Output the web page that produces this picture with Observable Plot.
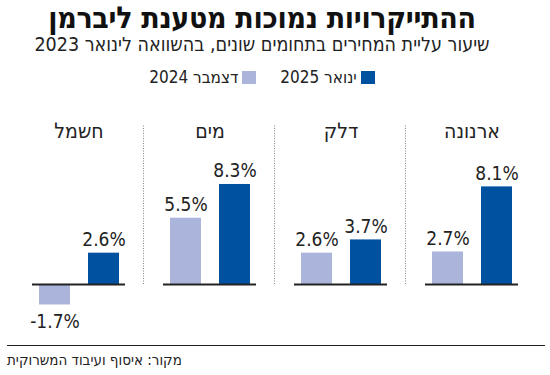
<!DOCTYPE html>
<html lang="he" dir="rtl">
<head>
<meta charset="utf-8">
<script src="https://cdn.jsdelivr.net/npm/d3@7"></script>
<script src="https://cdn.jsdelivr.net/npm/@observablehq/plot@0.6"></script>
<style>
  html, body { margin: 0; padding: 0; background: #fff; }
  body { width: 550px; height: 375px; position: relative; overflow: hidden;
         font-family: "Liberation Sans Narrow", "DejaVu Sans Condensed", "DejaVu Sans", sans-serif; color: #222; }
  #title { position: absolute; top: 2px; left: 0; width: 524px; text-align: center;
           font-size: 30px; font-weight: bold; color: #111; letter-spacing: -0.3px;
           font-family: "DejaVu Sans Condensed", "DejaVu Sans", sans-serif; line-height: 31px; }
  #subtitle { position: absolute; top: 33px; left: 0; width: 524px; text-align: center;
              font-size: 19.5px; line-height: 24px; }
  #legend { position: absolute; top: 66px; left: 0; width: 524px; text-align: center;
            font-size: 17px; line-height: 22px; }
  #legend span.item { display: inline-block; margin: 0 12px; }
  #legend span.sw { display: inline-block; width: 14px; height: 13px; margin-left: 4px; vertical-align: -1px; }
  #chart { position: absolute; top: 95px; left: 0; direction: ltr; }
  #rule { position: absolute; top: 345px; left: 7px; width: 538px; height: 0; border-top: 1.5px solid #222; }
  #source { position: absolute; top: 350px; left: 7px; font-size: 15px; line-height: 20px; }
</style>
</head>
<body>
<div id="title">ההתייקרויות נמוכות מטענת ליברמן</div>
<div id="subtitle">שיעור עליית המחירים בתחומים שונים, בהשוואה לינואר 2023</div>
<div id="legend"></div>
<div id="chart"></div>
<div id="rule"></div>
<div id="source">מקור: איסוף ועיבוד המשרוקית</div>
<script>
// Data
const categories = ["ארנונה", "דלק", "מים", "חשמל"];
const seriesKeys = ["2024", "2025"];
const seriesLabels = ["דצמבר 2024", "ינואר 2025"];
const seriesColors = ["#abb5dc", "#0052a0"];
const dec2024 = [2.7, 2.6, 5.5, -1.7];
const jan2025 = [8.1, 3.7, 8.3, 2.6];

const rows = [];
categories.forEach((c, i) => {
  rows.push({cat: c, s: "2024", v: dec2024[i]});
  rows.push({cat: c, s: "2025", v: jan2025[i]});
});

// Legend (RTL: January 2025 first on the right)
const legend = document.getElementById("legend");
[1, 0].forEach(k => {
  const item = document.createElement("span");
  item.className = "item";
  item.innerHTML = `<span class="sw" style="background:${seriesColors[k]}"></span>${seriesLabels[k]}`;
  legend.appendChild(item);
});

const fxOrder = categories.slice().reverse(); // left-to-right
const px = 12.05;
const base = 189;
const fmt = d => (d.v < 0 ? "-" : "") + Math.abs(d.v).toFixed(1) + "%";
const font = '"Liberation Sans Narrow", "DejaVu Sans Condensed", "DejaVu Sans", sans-serif';

const chart = Plot.plot({
  width: 550,
  height: 245,
  marginLeft: 32,
  marginRight: 31,
  marginTop: 0,
  marginBottom: 0,
  fx: {domain: fxOrder, paddingInner: 0.29, paddingOuter: 0, axis: null},
  x: {domain: seriesKeys, paddingInner: 0.376, paddingOuter: 0.12, axis: null},
  y: {domain: [-4, 14], range: [base + 4 * px, base - 14 * px], axis: null},
  color: {domain: seriesKeys, range: seriesColors},
  style: {fontFamily: font, background: "transparent"},
  marks: [
    Plot.ruleX(fxOrder.slice(1), {fx: d => d, x: () => "2024", dx: -42.5, y1: () => 0, y2: () => 13.2,
      stroke: "#888", strokeDasharray: "1,1.5", strokeWidth: 1}),
    Plot.barY(rows, {fx: "cat", x: "s", y: "v", fill: "s"}),
    Plot.ruleY(rows.filter(d => d.s === "2024"), {fx: "cat", y: () => 0, stroke: "#222", strokeWidth: 1.8}),
    Plot.text(rows.filter(d => d.v >= 0), {fx: "cat", x: "s", y: "v", text: fmt,
      dy: -7, lineAnchor: "bottom", fontSize: 19, fill: "#222"}),
    Plot.text(rows.filter(d => d.v < 0), {fx: "cat", x: "s", y: "v", text: fmt,
      dy: 10, lineAnchor: "top", fontSize: 19, fill: "#222"}),
    Plot.text(categories.map(c => ({cat: c})), {fx: "cat", frameAnchor: "top", dy: 28,
      text: "cat", fontSize: 21, fill: "#222"})
  ]
});
document.getElementById("chart").appendChild(chart);
</script>
</body>
</html>
